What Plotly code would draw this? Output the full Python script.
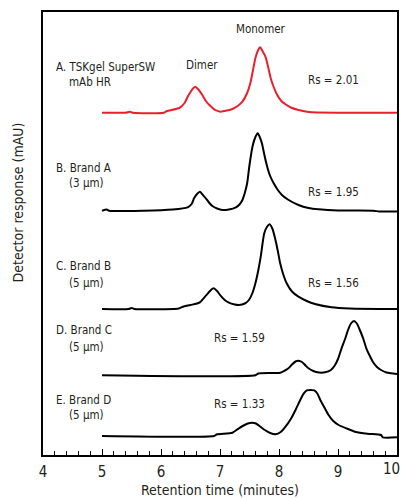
import plotly.graph_objects as go

# Retention time (min) and detector response (arbitrary stacked units)
t_A = [5.00, 5.40, 5.47, 5.52, 6.05, 6.10, 6.31, 6.40, 6.45, 6.50, 6.55, 6.58, 6.64, 6.70, 6.76, 6.82, 6.92, 7.01,
       7.12, 7.21, 7.30, 7.38, 7.46, 7.52, 7.56, 7.60, 7.64, 7.68, 7.72, 7.77, 7.82, 7.86, 7.91, 7.97, 8.04,
       8.11, 8.20, 8.33, 8.45, 8.56, 9.00, 10.0]
v_A = [342.3, 342.3, 343.3, 342.3, 342.3, 344.0, 347.0, 352.0, 358.0, 363.0, 367.0, 368.3, 365.0, 360.0, 354.0,
       350.0, 345.0, 343.3, 344.5, 346.0, 349.0, 353.3, 362.0, 373.3, 385.0, 397.0, 404.0, 407.7, 404.0, 398.3,
       387.0, 376.7, 368.0, 360.0, 354.0, 350.7, 347.5, 345.0, 343.5, 342.7, 342.3, 342.3]

t_B = [5.00, 5.08, 5.12, 5.70, 6.20, 6.45, 6.52, 6.56, 6.61, 6.66, 6.71, 6.76, 6.82, 6.87, 6.95, 7.04, 7.15, 7.27,
       7.33, 7.38, 7.42, 7.46, 7.50, 7.55, 7.60, 7.64, 7.68, 7.71, 7.76, 7.80, 7.85, 7.91, 7.98, 8.05, 8.15,
       8.33, 8.50, 8.67, 9.00, 9.60, 9.70, 10.0]
v_B = [244.3, 245.5, 244.3, 244.3, 245.5, 247.7, 251.0, 256.7, 261.0, 263.3, 260.0, 256.7, 252.0, 249.0, 246.5,
       245.0, 245.5, 247.7, 250.5, 255.0, 262.0, 271.7, 290.0, 308.3, 318.0, 321.7, 317.0, 311.7, 298.0, 288.3,
       279.0, 271.7, 265.0, 260.0, 255.5, 250.0, 247.0, 245.7, 244.5, 244.3, 243.5, 243.5]

t_C = [5.00, 5.45, 5.50, 5.55, 6.30, 6.37, 6.50, 6.65, 6.76, 6.83, 6.89, 6.95, 7.01, 7.08, 7.15, 7.25, 7.32, 7.42,
       7.49, 7.55, 7.60, 7.65, 7.69, 7.75, 7.80, 7.84, 7.89, 7.94, 7.98, 8.02, 8.07, 8.13, 8.22, 8.33, 8.47,
       8.61, 8.89, 9.20, 10.0]
v_C = [146.0, 146.0, 147.0, 146.0, 146.5, 148.3, 150.0, 152.3, 159.3, 164.0, 166.7, 164.0, 159.3, 155.0, 152.3,
       150.5, 150.0, 151.5, 155.0, 162.0, 171.7, 185.0, 198.3, 221.7, 228.5, 230.7, 226.0, 215.0, 204.0, 191.7,
       181.0, 171.7, 163.5, 158.3, 154.0, 151.0, 147.7, 146.5, 146.0]

t_D = [5.00, 7.60, 7.65, 8.02, 8.10, 8.16, 8.22, 8.28, 8.33, 8.39, 8.45, 8.50, 8.58, 8.68, 8.78, 8.88, 8.95, 9.00,
       9.06, 9.12, 9.17, 9.22, 9.27, 9.32, 9.37, 9.43, 9.48, 9.54, 9.59, 9.66, 9.73, 9.82, 9.90, 10.0]
v_D = [79.7, 79.7, 81.5, 82.3, 84.5, 86.7, 90.5, 93.5, 94.3, 93.0, 89.5, 86.7, 84.0, 82.5, 82.7, 85.0, 90.0, 96.0,
       106.7, 116.0, 125.0, 131.5, 134.0, 131.5, 125.0, 116.0, 106.7, 99.0, 93.3, 88.0, 85.0, 82.5, 81.7, 81.0]

t_E = [5.00, 6.90, 6.95, 7.21, 7.32, 7.40, 7.47, 7.54, 7.61, 7.68, 7.76, 7.85, 7.94, 8.03, 8.11, 8.20, 8.28, 8.36,
       8.42, 8.47, 8.53, 8.60, 8.65, 8.70, 8.77, 8.84, 8.92, 9.01, 9.15, 9.29, 9.50, 9.73, 9.76, 10.0]
v_E = [19.0, 19.0, 20.7, 22.3, 26.7, 29.5, 31.5, 32.3, 31.5, 28.5, 25.0, 22.0, 20.7, 23.0, 28.3, 36.0, 45.0, 55.0,
       61.7, 64.7, 65.0, 64.7, 61.5, 55.0, 47.5, 40.0, 34.0, 30.0, 26.5, 23.3, 21.2, 20.0, 17.7, 17.7]

# Column labels (two lines each) and resolution values
col_line1 = ["A. TSKgel SuperSW", "B. Brand A", "C. Brand B", "D. Brand C", "E. Brand D"]
col_line2 = ["mAb HR", "(3 µm)", "(5 µm)", "(5 µm)", "(5 µm)"]
rs_text = ["Rs = 2.01", "Rs = 1.95", "Rs = 1.56", "Rs = 1.59", "Rs = 1.33"]

# x-axis tick values / labels
x_ticks = [4, 5, 6, 7, 8, 9, 10]
x_ticktext = ["4", "5", "6", "7", "8", "9", "10"]

# label anchor positions (data units)
lab1_y = [388, 287, 189, 125, 55]
lab2_y = [373, 272, 172, 108, 40]
rs_x = [8.46, 8.46, 8.46, 6.86, 6.86]
rs_y = [375, 263, 172, 117, 51]

FONT = "DejaVu Sans Condensed"
TXT = "#231f20"
RED = "#e8202e"
BLACK = "#000000"
ASZ = 11.5
TSZ = 15

fig = go.Figure()
series = [(t_A, v_A, RED), (t_B, v_B, BLACK), (t_C, v_C, BLACK), (t_D, v_D, BLACK), (t_E, v_E, BLACK)]
for t, v, c in series:
    fig.add_trace(go.Scatter(x=t, y=v, mode="lines", line=dict(color=c, width=2, shape="spline", smoothing=0.6),
                             showlegend=False, hoverinfo="skip"))

ann = []
for i in range(5):
    ann.append(dict(x=4.19, y=lab1_y[i], text=col_line1[i], showarrow=False, xanchor="left", yanchor="middle",
                    font=dict(family=FONT, size=ASZ, color=TXT)))
    ann.append(dict(x=4.41, y=lab2_y[i], text=col_line2[i], showarrow=False, xanchor="left", yanchor="middle",
                    font=dict(family=FONT, size=ASZ, color=TXT)))
    ann.append(dict(x=rs_x[i], y=rs_y[i], text=rs_text[i], showarrow=False, xanchor="left", yanchor="middle",
                    font=dict(family=FONT, size=ASZ, color=TXT)))
ann.append(dict(x=7.69, y=426, text="Monomer", showarrow=False, xanchor="center", yanchor="middle",
                font=dict(family=FONT, size=ASZ, color=TXT)))
ann.append(dict(x=6.70, y=390, text="Dimer", showarrow=False, xanchor="center", yanchor="middle",
                font=dict(family=FONT, size=ASZ, color=TXT)))
# last tick label, kept inside the page like the reference
ann.append(dict(x=x_ticks[-1], y=0, xref="x", yref="paper", text=x_ticktext[-1], showarrow=False,
                xanchor="right", yanchor="middle", yshift=-14, xshift=5,
                font=dict(family=FONT, size=TSZ, color=TXT)))
# axis titles
ann.append(dict(x=0, y=0.57, xref="paper", yref="paper", xshift=-25, text="Detector response (mAU)",
                textangle=-90, showarrow=False, xanchor="center", yanchor="middle",
                font=dict(family=FONT, size=14, color=TXT)))
ann.append(dict(x=0.499, y=0, xref="paper", yref="paper", yshift=-35, text="Retention time (minutes)",
                showarrow=False, xanchor="center", yanchor="middle",
                font=dict(family=FONT, size=14, color=TXT)))

fig.update_layout(
    width=402, height=498,
    margin=dict(l=43, r=3, t=12, b=43),
    paper_bgcolor="white", plot_bgcolor="white",
    annotations=ann,
    font=dict(family=FONT, color=TXT),
)
fig.update_xaxes(
    range=[4, 10], tickvals=x_ticks[:-1], ticktext=x_ticktext[:-1], showgrid=False, zeroline=False,
    showline=True, linecolor="black", linewidth=2, mirror=True,
    ticks="inside", ticklen=6, tickwidth=1, tickcolor="black", ticklabelstandoff=2,
    tickfont=dict(family=FONT, size=TSZ, color=TXT),
    minor=dict(tickvals=[4 + 0.2 * k for k in range(31)], ticks="inside", ticklen=4, tickwidth=1, tickcolor="black"),
)
fig.update_yaxes(
    range=[0, 443], showgrid=False, zeroline=False, showticklabels=False, ticks="",
    showline=True, linecolor="black", linewidth=2, mirror=True,
)

fig.write_html("out.html")
